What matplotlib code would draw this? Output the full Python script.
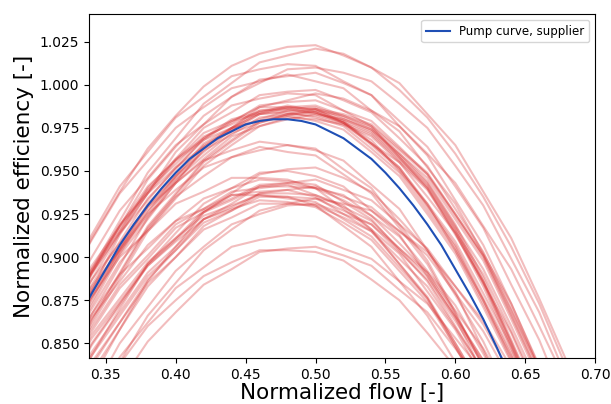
import matplotlib
matplotlib.use("Agg")
import matplotlib.pyplot as plt

# normalized flow grid of the measured runs
flow = [0.32, 0.34, 0.36, 0.38, 0.40, 0.42, 0.44, 0.46, 0.48, 0.50,
        0.52, 0.54, 0.56, 0.58, 0.60, 0.62, 0.64, 0.66, 0.68, 0.70]

eff_top = [
    [879, 911, 938, 963, 982, 999, 1011, 1018, 1022, 1023, 1017, 1010, 997, 981, 960, 935, 906, 873, 835],
    [858, 893, 921, 949, 969, 989, 1001, 1013, 1017, 1021, 1018, 1010, 1001, 983, 965, 938, 911, 876, 839],
    [884, 913, 941, 961, 981, 993, 1005, 1009, 1012, 1011, 1002, 994, 976, 959, 933, 907, 873, 837],
    [848, 881, 913, 937, 961, 977, 993, 1001, 1009, 1010, 1007, 1002, 989, 975, 953, 930, 899, 868, 829],
    [857, 891, 918, 945, 964, 982, 993, 1003, 1005, 1007, 1001, 994, 979, 964, 941, 917, 884, 852, 812],
    [882, 910, 937, 956, 975, 987, 998, 1002, 1006, 1002, 998, 985, 973, 952, 931, 902, 873, 836],
]
eff_upper = [
    [858, 890, 915, 940, 957, 975, 984, 994, 996, 997, 991, 984, 969, 953, 928, 903, 870, 835],
    [872, 900, 927, 946, 965, 977, 988, 992, 995, 994, 985, 976, 958, 940, 913, 886, 851, 814],
    [832, 867, 895, 923, 943, 963, 975, 987, 991, 995, 992, 985, 976, 960, 943, 918, 893, 860, 826],
    [852, 884, 909, 934, 951, 969, 978, 988, 990, 991, 985, 979, 964, 948, 925, 901, 869, 835],
]
eff_main = [
    [849, 881, 906, 931, 948, 966, 975, 985, 987, 988, 982, 975, 960, 944, 919, 888, 852, 815],
    [864, 892, 919, 938, 957, 969, 980, 984, 988, 985, 979, 966, 952, 930, 907, 876, 845, 806],
    [830, 864, 891, 918, 937, 956, 968, 979, 983, 986, 983, 977, 963, 949, 925, 901, 867, 832],
    [846, 876, 905, 926, 947, 961, 974, 980, 985, 984, 979, 972, 957, 941, 916, 885, 849, 812],
    [861, 891, 914, 937, 952, 968, 975, 983, 984, 981, 976, 963, 949, 927, 904, 873, 842, 803],
    [844, 874, 903, 924, 945, 959, 972, 978, 983, 982, 977, 970, 955, 939, 914, 883, 847, 810],
    [829, 863, 890, 917, 936, 955, 967, 978, 982, 985, 982, 976, 962, 948, 924, 900, 866, 831],
    [859, 887, 914, 933, 952, 964, 975, 979, 982, 979, 974, 961, 947, 925, 902, 871, 839],
    [847, 879, 904, 929, 946, 964, 973, 983, 985, 986, 980, 973, 958, 942, 917, 886, 850, 813],
    [828, 861, 888, 915, 934, 953, 965, 976, 980, 983, 980, 974, 960, 946, 922, 898, 864, 829],
    [863, 893, 916, 939, 954, 970, 977, 985, 986, 983, 978, 965, 951, 929, 906, 875, 843, 805],
    [848, 880, 905, 930, 947, 965, 974, 984, 986, 987, 981, 974, 959, 943, 918, 893, 860, 825],
    [845, 877, 902, 927, 944, 962, 971, 981, 983, 984, 978, 971, 956, 940, 915, 890, 857, 822],
    [863, 891, 918, 937, 956, 968, 979, 983, 987, 984, 978, 966, 952, 931, 909, 879, 848, 811],
    [842, 872, 901, 922, 943, 957, 970, 976, 981, 980, 977, 966, 955, 935, 914, 885, 856, 819],
    [865, 895, 918, 941, 956, 972, 979, 987, 987, 986, 978, 968, 950, 931, 904, 875, 840],
]
eff_mid = [
    [859, 887, 908, 929, 943, 956, 962, 967, 965, 963, 951, 940, 919, 898, 868, 836],
    [842, 870, 897, 916, 935, 947, 958, 962, 965, 962, 956, 942, 928, 904, 880, 846, 812],
    [855, 883, 904, 925, 939, 952, 958, 964, 961, 959, 948, 937, 917, 896, 867, 837],
    [793, 829, 858, 886, 906, 926, 937, 948, 951, 952, 946, 938, 922, 904, 878, 851, 817],
    [809, 843, 870, 896, 914, 931, 940, 949, 950, 947, 941, 927, 913, 889, 865, 832],
]
eff_low = [
    [853, 877, 900, 915, 931, 938, 946, 946, 945, 940, 928, 916, 896, 876, 848, 819],
    [837, 865, 886, 907, 921, 934, 940, 945, 944, 942, 932, 922, 904, 886, 860, 833],
    [820, 850, 873, 896, 911, 927, 934, 942, 943, 940, 936, 924, 912, 892, 872, 844, 815],
    [833, 859, 884, 901, 919, 928, 938, 940, 942, 936, 930, 916, 902, 880, 858, 829],
    [801, 833, 858, 883, 900, 918, 927, 937, 939, 941, 935, 929, 915, 901, 879, 857, 828],
    [815, 845, 868, 891, 906, 922, 929, 937, 937, 936, 929, 921, 905, 889, 865, 840],
    [843, 867, 890, 905, 921, 928, 936, 936, 935, 930, 918, 906, 886, 866, 839],
    [827, 855, 876, 897, 911, 924, 930, 936, 934, 932, 922, 912, 894, 876, 850, 823],
    [779, 812, 839, 866, 885, 904, 916, 927, 931, 934, 931, 927, 915, 903, 883, 863, 836],
    [809, 839, 862, 885, 900, 916, 923, 931, 931, 930, 923, 915, 899, 883, 859, 834],
    [791, 821, 850, 871, 892, 906, 919, 925, 930, 931, 925, 919, 905, 891, 869, 847, 818],
    [805, 837, 862, 887, 904, 922, 931, 941, 943, 945, 939, 933, 919, 905, 883, 861, 832],
    [831, 857, 882, 899, 917, 926, 936, 938, 939, 935, 925, 915, 896, 877, 850, 822],
    [813, 843, 866, 889, 904, 920, 927, 935, 935, 934, 927, 919, 903, 887, 863, 838],
    [819, 849, 872, 895, 910, 926, 933, 941, 941, 940, 933, 924, 908, 891, 866, 840],
    [825, 853, 874, 895, 909, 922, 928, 933, 932, 929, 920, 910, 892, 874, 848, 821],
]
eff_lowest = [
    [785, 815, 842, 862, 882, 894, 906, 910, 913, 912, 905, 899, 886, 873, 853, 833],
    [787, 816, 838, 860, 875, 889, 897, 904, 904, 903, 898, 887, 875, 856, 836],
    [773, 803, 827, 851, 868, 884, 893, 903, 905, 906, 901, 895, 881, 868, 847, 825],
]

# supplier pump curve
pump_flow = [0.33, 0.34, 0.35, 0.36, 0.37, 0.38, 0.39, 0.40, 0.41, 0.42, 0.43,
             0.44, 0.45, 0.46, 0.47, 0.48, 0.49, 0.50, 0.51, 0.52, 0.53, 0.54,
             0.55, 0.56, 0.57, 0.58, 0.59, 0.60, 0.61, 0.62, 0.63, 0.64]
pump_eff = [864, 879, 893, 907, 919, 930, 940, 949, 957, 963, 969,
            973, 977, 979, 980, 980, 979, 977, 973, 969, 963, 957,
            949, 940, 930, 919, 907, 893, 879, 864, 847, 829]

fig, ax = plt.subplots(figsize=(6.11, 4.04), dpi=100)

for band in (eff_top, eff_upper, eff_main, eff_mid, eff_low, eff_lowest):
    for run in band:
        ax.plot(flow[:len(run)], [v / 1000 for v in run], color="tab:red", alpha=0.3, lw=1.5)

ax.plot(pump_flow, [v / 1000 for v in pump_eff], color="#1f4fb5", lw=1.5,
        label="Pump curve, supplier")

ax.set_xlim(0.338, 0.70)
ax.set_ylim(0.8415, 1.041)
ax.set_xlabel("Normalized flow [-]", fontsize=15.5, labelpad=1)
ax.set_ylabel("Normalized efficiency [-]", fontsize=15.5)
ax.tick_params(labelsize=10)
ax.legend(loc="upper right", fontsize=8.5)

fig.subplots_adjust(left=0.1457, right=0.974, bottom=0.114, top=0.965)
fig.savefig("out.png", dpi=100)
